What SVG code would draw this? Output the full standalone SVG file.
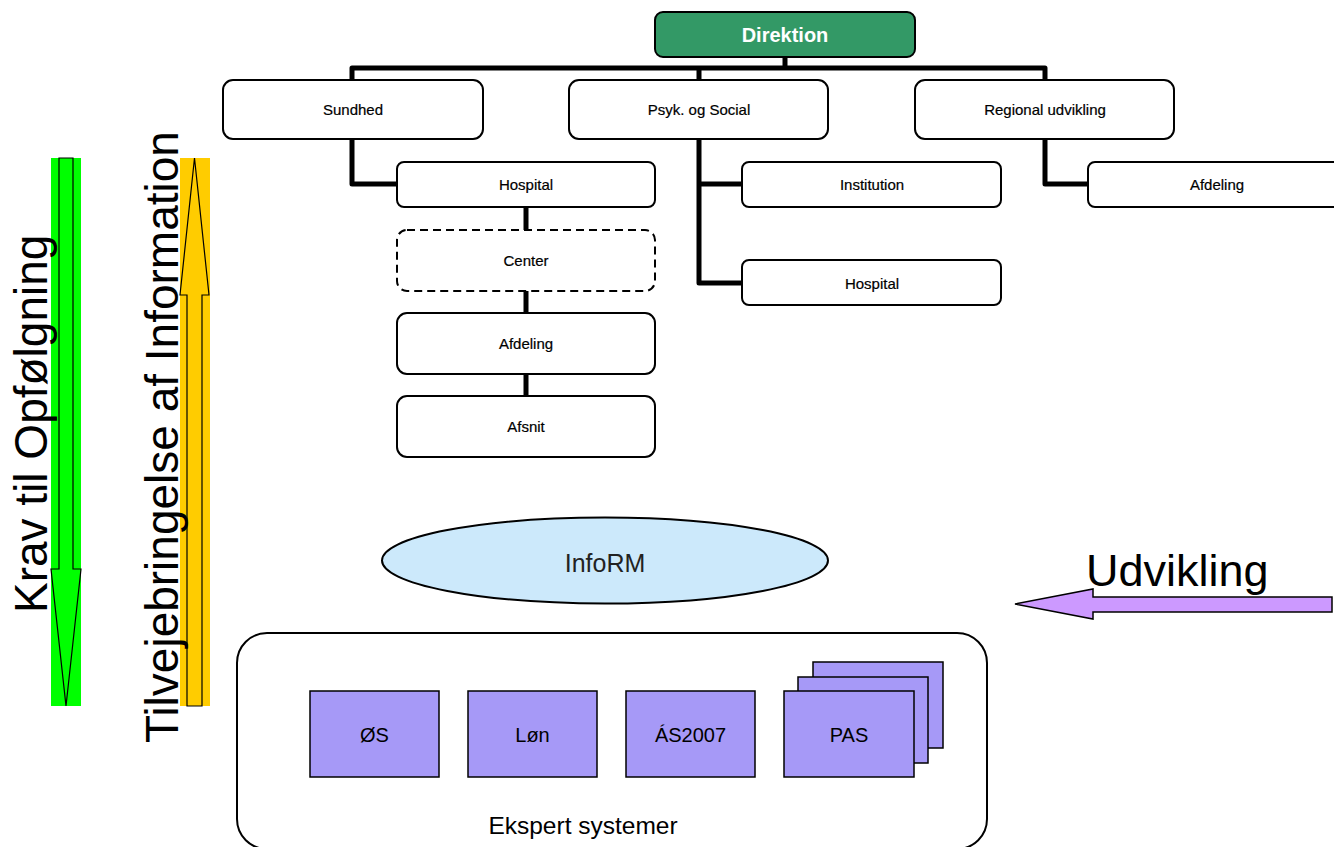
<svg xmlns="http://www.w3.org/2000/svg" width="1334" height="847" viewBox="0 0 1334 847">
<style>
text{font-family:"Liberation Sans",Arial,sans-serif;fill:#000}
.box{fill:#fff;stroke:#000;stroke-width:2}
.lbl{font-size:15px;text-anchor:middle;stroke:#000;stroke-width:0.2}
.conn{fill:none;stroke:#000;stroke-width:5;stroke-linejoin:round}
.sys{fill:#a699f7;stroke:#000;stroke-width:1.5}
.syst{font-size:20px;text-anchor:middle}
.big{font-size:46px}
</style>
<rect width="1334" height="847" fill="#fff"/>

<g id="side-arrows">
  <rect x="51" y="158" width="30" height="548" fill="#00ff00"/>
  <polygon points="59,158 73,158 73,569 81,569 66,706 51,569 59,569" fill="#00ff00" stroke="#000" stroke-width="1.2"/>
  <rect x="180" y="158" width="30" height="548" fill="#ffcc00"/>
  <polygon points="194.5,158 209,295 202,295 202,706 187,706 187,295 180,295" fill="#ffcc00" stroke="#000" stroke-width="1.2"/>
  <text class="big" transform="translate(47,613) rotate(-90)">Krav til Opfølgning</text>
  <text class="big" transform="translate(178,743) rotate(-90)">Tilvejebringelse af Information</text>
</g>

<g id="connectors">
  <path class="conn" d="M785,57 V68"/>
  <path class="conn" d="M352,80 V68 H1045 V80 M699,68 V80"/>
  <path class="conn" d="M352,139 V184 H397"/>
  <path class="conn" d="M699,139 V283 H742 M699,184 H742"/>
  <path class="conn" d="M1045,139 V184 H1088"/>
  <path class="conn" d="M526,207 V230 M526,291 V313 M526,374 V396"/>
</g>

<g id="direktion">
  <rect x="655" y="12" width="260" height="45" rx="8" fill="#339966" stroke="#000" stroke-width="2"/>
  <text x="785" y="42" font-size="20" font-weight="bold" text-anchor="middle" style="fill:#fff">Direktion</text>
</g>
<g id="sundhed">
  <rect class="box" x="223" y="80" width="260" height="59" rx="10"/>
  <text class="lbl" x="353" y="115">Sundhed</text>
</g>
<g id="psyk">
  <rect class="box" x="569" y="80" width="259" height="59" rx="10"/>
  <text class="lbl" x="699" y="115">Psyk. og Social</text>
</g>
<g id="regional">
  <rect class="box" x="915" y="80" width="259" height="59" rx="10"/>
  <text class="lbl" x="1045" y="115">Regional udvikling</text>
</g>
<g id="hospital1">
  <rect class="box" x="397" y="162" width="258" height="45" rx="7"/>
  <text class="lbl" x="526" y="190">Hospital</text>
</g>
<g id="center">
  <rect class="box" x="397" y="230" width="258" height="61" rx="10" stroke-dasharray="8,5"/>
  <text class="lbl" x="526" y="266">Center</text>
</g>
<g id="afdeling1">
  <rect class="box" x="397" y="313" width="258" height="61" rx="10"/>
  <text class="lbl" x="526" y="349">Afdeling</text>
</g>
<g id="afsnit">
  <rect class="box" x="397" y="396" width="258" height="61" rx="10"/>
  <text class="lbl" x="526" y="432">Afsnit</text>
</g>
<g id="institution">
  <rect class="box" x="742" y="162" width="259" height="45" rx="7"/>
  <text class="lbl" x="872" y="190">Institution</text>
</g>
<g id="hospital2">
  <rect class="box" x="742" y="260" width="259" height="45" rx="7"/>
  <text class="lbl" x="872" y="289">Hospital</text>
</g>
<g id="afdeling2">
  <rect class="box" x="1088" y="162" width="258" height="45" rx="7"/>
  <text class="lbl" x="1217" y="190">Afdeling</text>
</g>

<g id="inform">
  <ellipse cx="605" cy="560.5" rx="223" ry="43" fill="#cce9fb" stroke="#000" stroke-width="2"/>
  <text x="605" y="572" font-size="25" text-anchor="middle" style="fill:#222">InfoRM</text>
</g>

<g id="udvikling">
  <polygon points="1015,604 1093,589 1093,597 1332,597 1332,612 1093,612 1093,619" fill="#cc99ff" stroke="#000" stroke-width="1.5"/>
  <text x="1086" y="586" font-size="45">Udvikling</text>
</g>

<g id="ekspert">
  <rect x="237" y="633" width="750" height="216" rx="30" fill="#fff" stroke="#000" stroke-width="2"/>
  <text x="583" y="834" font-size="24.5" text-anchor="middle">Ekspert systemer</text>
</g>
<g id="os">
  <rect class="sys" x="310" y="691" width="129" height="86"/>
  <text class="syst" x="374.5" y="742">ØS</text>
</g>
<g id="lon">
  <rect class="sys" x="468" y="691" width="129" height="86"/>
  <text class="syst" x="532.5" y="742">Løn</text>
</g>
<g id="as2007">
  <rect class="sys" x="626" y="691" width="129" height="86"/>
  <text class="syst" x="690.5" y="742">ÁS2007</text>
</g>
<g id="pas">
  <rect class="sys" x="813" y="662" width="130" height="86"/>
  <rect class="sys" x="798" y="677" width="130" height="86"/>
  <rect class="sys" x="784" y="691" width="130" height="86"/>
  <text class="syst" x="849" y="742">PAS</text>
</g>
</svg>
